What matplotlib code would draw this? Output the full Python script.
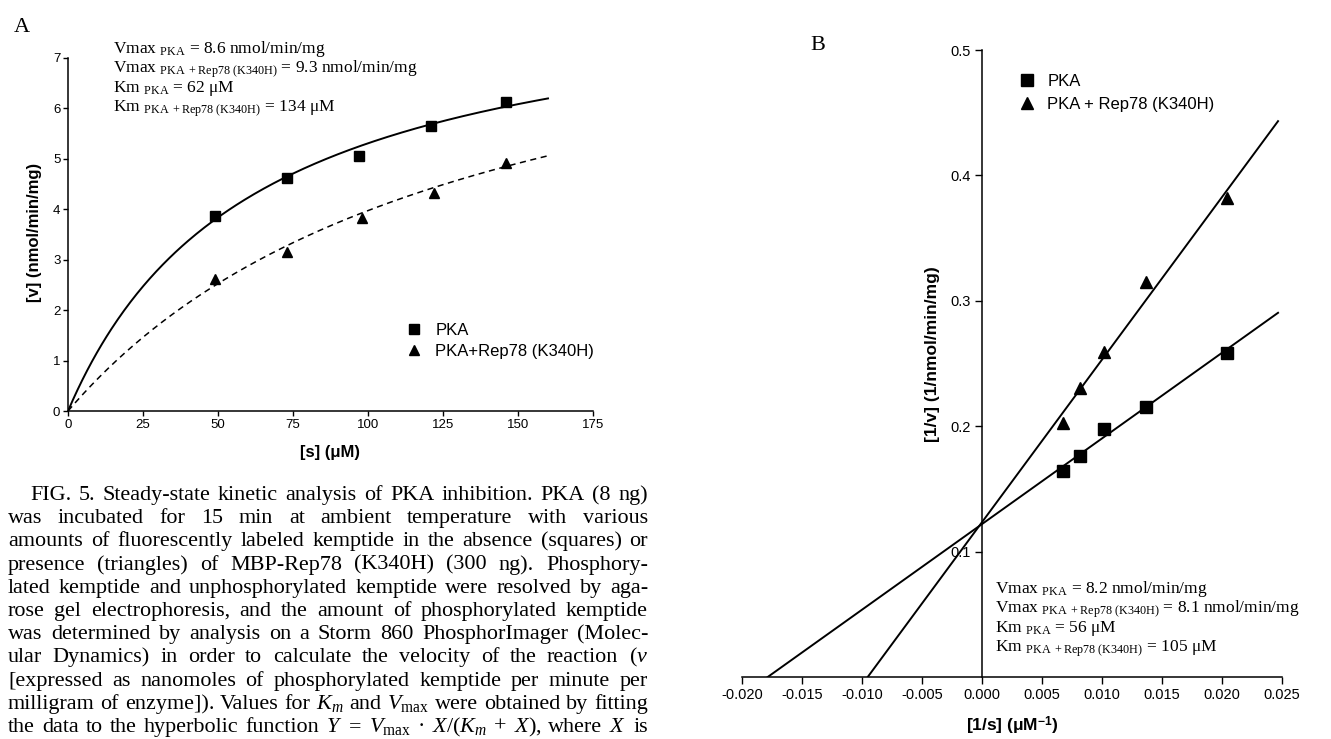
import numpy as np
import matplotlib
matplotlib.use('Agg')
import matplotlib.pyplot as plt

plt.rcParams['font.family'] = ['Liberation Sans', 'DejaVu Sans']
plt.rcParams['mathtext.fontset'] = 'custom'
plt.rcParams['mathtext.rm'] = 'Liberation Serif'
plt.rcParams['mathtext.it'] = 'Liberation Serif:italic'
plt.rcParams['mathtext.bf'] = 'Liberation Sans:bold'

# --- Panel A: velocity vs substrate ---
s_pka = [49, 73, 97, 121, 146]
v_pka = [3.86, 4.62, 5.06, 5.65, 6.13]
s_rep = [49, 73, 98, 122, 146]
v_rep = [2.62, 3.16, 3.83, 4.32, 4.92]
vmax_pka_a, km_pka_a = 8.6, 62
vmax_rep_a, km_rep_a = 9.3, 134

# --- Panel B: double reciprocal ---
inv_s_pka = [0.00675, 0.00817, 0.0102, 0.01367, 0.0204]
inv_v_pka = [0.164, 0.176, 0.1975, 0.2155, 0.2586]
inv_s_rep = [0.00675, 0.0082, 0.0102, 0.01367, 0.0204]
inv_v_rep = [0.2023, 0.2302, 0.2594, 0.3152, 0.3817]
vmax_pka_b, km_pka_b = 8.2, 56
vmax_rep_b, km_rep_b = 8.1, 105

labels_a = ['PKA', 'PKA+Rep78 (K340H)']
labels_b = ['PKA', 'PKA + Rep78 (K340H)']

notes_a = [r'Vmax $_{\mathrm{PKA}}$ = 8.6 nmol/min/mg',
           r'Vmax $_{\mathrm{PKA\ +Rep78\ (K340H)}}$ = 9.3 nmol/min/mg',
           r'Km $_{\mathrm{PKA}}$ = 62 μM',
           r'Km $_{\mathrm{PKA\ +Rep78\ (K340H)}}$ = 134 μM']
notes_b = [r'Vmax $_{\mathrm{PKA}}$ = 8.2 nmol/min/mg',
           r'Vmax $_{\mathrm{PKA\ +Rep78\ (K340H)}}$ = 8.1 nmol/min/mg',
           r'Km $_{\mathrm{PKA}}$ = 56 μM',
           r'Km $_{\mathrm{PKA\ +Rep78\ (K340H)}}$ = 105 μM']

caption_lines = [
    "FIG. 5. Steady-state kinetic analysis of PKA inhibition. PKA (8 ng)",
    "was incubated for 15 min at ambient temperature with various",
    "amounts of fluorescently labeled kemptide in the absence (squares) or",
    "presence (triangles) of MBP-Rep78 (K340H) (300 ng). Phosphory-",
    "lated kemptide and unphosphorylated kemptide were resolved by aga-",
    "rose gel electrophoresis, and the amount of phosphorylated kemptide",
    "was determined by analysis on a Storm 860 PhosphorImager (Molec-",
    "ular Dynamics) in order to calculate the velocity of the reaction ($v$",
    "[expressed as nanomoles of phosphorylated kemptide per minute per",
    r"milligram of enzyme]). Values for $K_m$ and $V_{\mathrm{max}}$ were obtained by fitting",
    r"the data to the hyperbolic function $Y$ = $V_{\mathrm{max}}$ · $X/(K_m$ + $X),$ where $X$ is",
]

W, H = 1331, 739
fig = plt.figure(figsize=(W / 100, H / 100), dpi=100)

# ---------------- Panel A ----------------
axA = fig.add_axes([68 / W, 1 - 411 / H, 525 / W, 353 / H])
s_fit = np.linspace(0, 160, 300)
axA.plot(s_fit, vmax_pka_a * s_fit / (km_pka_a + s_fit), color='black', lw=1.4)
axA.plot(s_fit, vmax_rep_a * s_fit / (km_rep_a + s_fit), color='black', lw=1.1,
         dashes=(4, 3))
axA.plot(s_pka, v_pka, 's', color='black', ms=7.5, ls='none', label=labels_a[0])
axA.plot(s_rep, v_rep, '^', color='black', ms=7.5, ls='none', label=labels_a[1])
axA.set_xlim(0, 175)
axA.set_ylim(0, 7)
axA.set_xticks(range(0, 176, 25))
axA.set_yticks(range(0, 8))
for sp in ['top', 'right']:
    axA.spines[sp].set_visible(False)
for sp in ['left', 'bottom']:
    axA.spines[sp].set_linewidth(1.1)
axA.tick_params(direction='out', length=3.5, width=1.0, labelsize=9.5, pad=2)
axA.legend(frameon=False, fontsize=12, loc='upper left',
           bbox_to_anchor=(406 / W, 1 - 323 / H), bbox_transform=fig.transFigure,
           borderpad=0, borderaxespad=0, handlelength=1.0, handletextpad=0.75,
           labelspacing=0.36)

# ---------------- Panel B ----------------
axB = fig.add_axes([742 / W, 1 - 677 / H, 540 / W, 627 / H])
x_end = 0.02467
x_pka = np.linspace(-1 / km_pka_b, x_end, 50)
x_rep = np.linspace(-1 / km_rep_b, x_end, 50)
axB.plot(x_pka, km_pka_b / vmax_pka_b * x_pka + 1 / vmax_pka_b, color='black', lw=1.4)
axB.plot(x_rep, km_rep_b / vmax_rep_b * x_rep + 1 / vmax_rep_b, color='black', lw=1.4)
axB.plot(inv_s_pka, inv_v_pka, 's', color='black', ms=8, ls='none', label=labels_b[0])
axB.plot(inv_s_rep, inv_v_rep, '^', color='black', ms=8, ls='none', label=labels_b[1])
axB.set_xlim(-0.02, 0.025)
axB.set_ylim(0, 0.5)
xt = np.round(np.arange(-0.020, 0.0251, 0.005), 3)
axB.set_xticks(xt)
axB.set_xticklabels([f'{v + 0.0:.3f}' for v in xt])
axB.set_yticks([0.1, 0.2, 0.3, 0.4, 0.5])
axB.set_yticklabels(['0.1', '0.2', '0.3', '0.4', '0.5'])
axB.spines['left'].set_position(('data', 0))
for sp in ['top', 'right']:
    axB.spines[sp].set_visible(False)
for sp in ['left', 'bottom']:
    axB.spines[sp].set_linewidth(1.1)
axB.tick_params(direction='out', length=5, width=1.0, labelsize=10.5, pad=3)
axB.legend(frameon=False, fontsize=12, loc='upper left',
           bbox_to_anchor=(1019 / W, 1 - 74 / H), bbox_transform=fig.transFigure,
           borderpad=0, borderaxespad=0, handlelength=1.0, handletextpad=0.7,
           labelspacing=0.45)

# ---------------- overlay for free text (pixel coords) ----------------
ov = fig.add_axes([0, 0, 1, 1])
ov.set_xlim(0, W)
ov.set_ylim(H, 0)
ov.axis('off')

ov.text(22, 28, 'A', fontsize=16, family='Liberation Serif', ha='center', va='center')
ov.text(818, 45, 'B', fontsize=16, family='Liberation Serif', ha='center', va='center')

# axis labels
ov.text(35, 232, '[v] (nmol/min/mg)', fontsize=12, fontweight='bold', rotation=90,
        ha='center', va='center')
ov.text(330, 453, '[s] (μM)', fontsize=12, fontweight='bold', ha='center', va='center')
ov.text(933, 354, '[1/v] (1/nmol/min/mg)', fontsize=12.5, fontweight='bold',
        rotation=90, ha='center', va='center')
ov.text(1012, 726, r'[1/s] (μM$^{\mathbf{-1}}$)', fontsize=12.5, fontweight='bold',
        ha='center', va='center')

# fit parameter notes
for i, t in enumerate(notes_a):
    ov.text(113, 53 + i * 19.6, t, fontsize=12.5, family='Liberation Serif', va='baseline')
for i, t in enumerate(notes_b):
    ov.text(995, 593 + i * 19.6, t, fontsize=12.5, family='Liberation Serif', va='baseline')

# caption, justified word by word
cap_left, cap_right, cap_indent = 8, 648, 30
cap_y0, cap_dy = 500, 23.2
base_fs = 13.4
renderer = fig.canvas.get_renderer()
rows = []
for i, line in enumerate(caption_lines):
    words = line.split(' ')
    rows.append([ov.text(0, cap_y0 + i * cap_dy, w, fontsize=base_fs,
                         family='Liberation Serif', va='baseline') for w in words])


def word_widths(ts):
    return [t.get_window_extent(renderer=renderer).width for t in ts]


probe = ov.text(0, 0, 'n n', fontsize=base_fs, family='Liberation Serif')
probe1 = ov.text(0, 0, 'n', fontsize=base_fs, family='Liberation Serif')
space_w = word_widths([probe])[0] - 2 * word_widths([probe1])[0]
probe.remove()
probe1.remove()

k = 1.4
for i, ts in enumerate(rows):
    left = cap_indent if i == 0 else cap_left
    need = sum(word_widths(ts)) + 1.0 * space_w * (len(ts) - 1)
    k = min(k, (cap_right - left) / need)
fs = base_fs * k
for ts in rows:
    for t in ts:
        t.set_fontsize(fs)

for i, ts in enumerate(rows):
    left = cap_indent if i == 0 else cap_left
    ws = word_widths(ts)
    gap = (cap_right - left - sum(ws)) / (len(ts) - 1)
    x = left
    for t, w in zip(ts, ws):
        t.set_x(x)
        x += w + gap

fig.savefig('out.png', dpi=100)
